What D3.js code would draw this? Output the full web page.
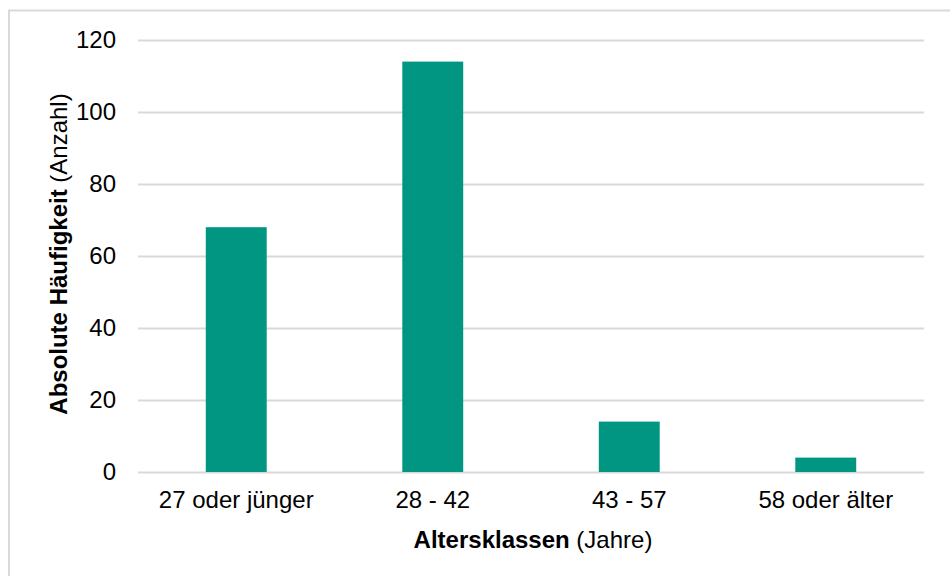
<!DOCTYPE html>
<html><head><meta charset="utf-8">
<script src="https://cdn.jsdelivr.net/npm/d3@7"></script>
<style>body{margin:0;background:#fff}svg{display:block;font-family:"Liberation Sans",Arial,sans-serif}</style>
</head><body><svg id="c" width="950" height="576"></svg>
<script>
const categories = ["27 oder jünger", "28 - 42", "43 - 57", "58 oder älter"];
const values = [68, 114, 14, 4];
const yTicks = [0, 20, 40, 60, 80, 100, 120];

const svg = d3.select("#c");
svg.append("rect").attr("x", 9).attr("y", 10.5).attr("width", 960).attr("height", 600)
  .attr("fill", "#fff").attr("stroke", "#d9d9d9").attr("stroke-width", 2);

const x = d3.scaleBand().domain(categories).range([138, 924]).paddingInner(0.69).paddingOuter(0.345);
const y = d3.scaleLinear().domain([0, 120]).range([472, 40]);

const gy = svg.append("g").attr("transform", "translate(138,0)")
  .call(d3.axisLeft(y).tickValues(yTicks).tickSize(-786).tickPadding(22));
gy.select(".domain").remove();
gy.selectAll(".tick line").attr("stroke", "#d9d9d9").attr("stroke-width", 2);
gy.selectAll(".tick text").attr("font-size", 24).attr("fill", "#000").attr("font-family", "Liberation Sans, Arial, sans-serif");

svg.append("g").selectAll("rect").data(values).join("rect")
  .attr("x", (d, i) => x(categories[i])).attr("width", x.bandwidth())
  .attr("y", d => y(d)).attr("height", d => y(0) - y(d)).attr("fill", "#009682");

const gx = svg.append("g").attr("transform", "translate(0,472)")
  .call(d3.axisBottom(x).tickSize(0).tickPadding(19));
gx.select(".domain").remove();
gx.selectAll(".tick text").attr("font-size", 24).attr("fill", "#000").attr("font-family", "Liberation Sans, Arial, sans-serif");

const xt = svg.append("text").attr("x", 533).attr("y", 548).attr("text-anchor", "middle")
  .attr("font-size", 24).attr("fill", "#000");
xt.append("tspan").attr("font-weight", "bold").text("Altersklassen");
xt.append("tspan").text(" (Jahre)");

const yt = svg.append("text").attr("transform", "translate(67,254) rotate(-90)").attr("text-anchor", "middle")
  .attr("font-size", 24).attr("fill", "#000");
yt.append("tspan").attr("font-weight", "bold").text("Absolute Häufigkeit");
yt.append("tspan").text(" (Anzahl)");
</script></body></html>
